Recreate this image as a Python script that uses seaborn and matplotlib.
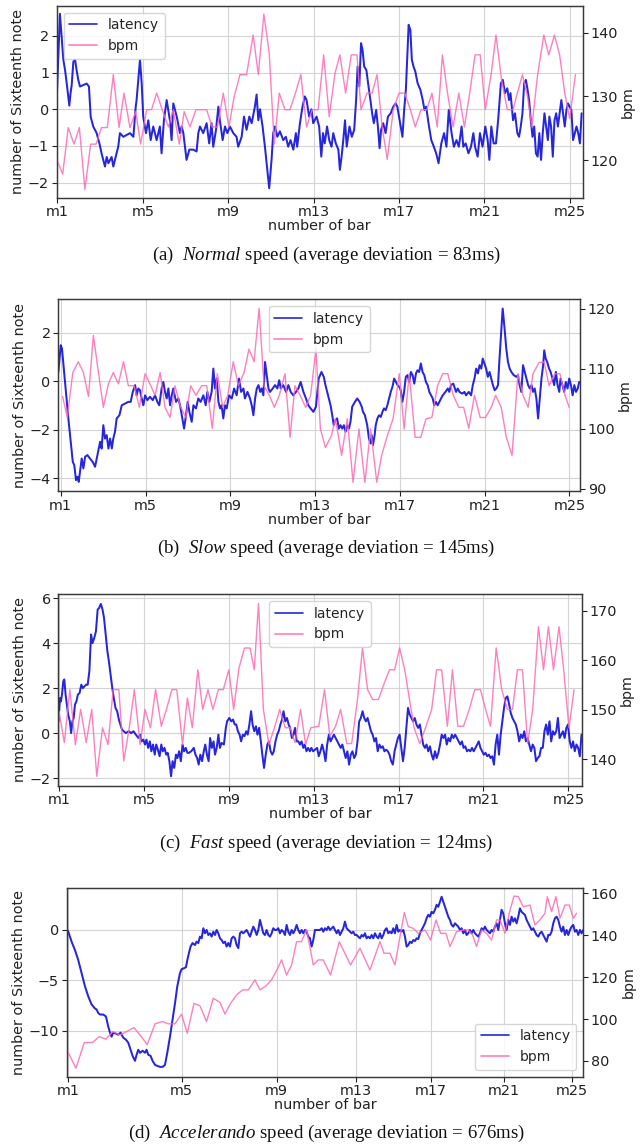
import numpy as np
import matplotlib
matplotlib.use("Agg")
import matplotlib.pyplot as plt
import seaborn as sns

# ---------------- data ----------------
bar_labels = ["m1", "m5", "m9", "m13", "m17", "m21", "m25"]
bar_ticks = [1, 5, 9, 13, 17, 21, 25]
# accelerando panel: x axis is time (s), bars start at these times
bar_times_d = [0, 11.34, 20.84, 28.74, 36.24, 43.57, 50.4]

captions = [
    ("(a)", "Normal", "speed (average deviation = 83ms)"),
    ("(b)", "Slow", "speed (average deviation = 145ms)"),
    ("(c)", "Fast", "speed (average deviation = 124ms)"),
    ("(d)", "Accelerando", "speed (average deviation = 676ms)"),
]

# (a) Normal
latency_a = [
    (0.97, 0.25), (1.12, 2.6), (1.28, 1.35), (1.36, 1.07), (1.44, 0.7), (1.56, 0.1), (1.62, 0.45), (1.67, 0.65),
    (1.75, 1.3), (1.83, 1.35), (1.90, 1.07), (1.98, 0.8), (2.06, 0.62), (2.22, 0.66), (2.37, 0.7), (2.48, 0.62),
    (2.56, -0.2), (2.68, -0.47), (2.84, -0.65), (2.97, -0.93), (3.07, -1.2), (3.23, -1.56), (3.31, -1.3),
    (3.39, -1.47), (3.54, -1.3), (3.62, -1.56), (3.75, -1.25), (3.85, -1.02), (3.93, -0.65), (4.09, -0.75),
    (4.24, -0.7), (4.40, -0.65), (4.56, -0.75), (4.67, 0.07), (4.71, 0.25), (4.79, 0.8), (4.87, 1.35), (4.95, 0.7),
    (5.02, -0.2), (5.15, -0.65), (5.26, -0.3), (5.37, -0.84), (5.49, -0.47), (5.65, -0.84), (5.80, -0.47),
    (5.88, -1.2), (5.99, -0.3), (6.12, 0.25), (6.27, -0.3), (6.35, -0.84), (6.43, 0.16), (6.59, -0.2), (6.74, -0.65),
    (6.82, -0.47), (6.90, -0.65), (7.05, -1.38), (7.18, -1.1), (7.37, -1.1), (7.52, -1.15), (7.60, -0.65),
    (7.68, -0.47), (7.83, -0.65), (7.99, -0.38), (8.11, -0.93), (8.22, -0.38), (8.30, -1.02), (8.43, -0.56),
    (8.54, 0.07), (8.61, -0.3), (8.74, -0.84), (8.85, -0.47), (8.96, -0.65), (9.08, -0.47), (9.24, -0.65),
    (9.39, -0.75), (9.47, -1.02), (9.63, -0.75), (9.74, -0.2), (9.86, -0.56), (9.99, -0.2), (10.10, -0.38),
    (10.25, 0.07), (10.33, 0.4), (10.41, -0.3), (10.49, 0.0), (10.61, -0.47), (10.72, -1.02), (10.83, -1.65),
    (10.92, -2.15), (11.03, -1.38), (11.11, -0.65), (11.19, -0.47), (11.30, -0.75), (11.42, -0.6), (11.58, -0.84),
    (11.70, -0.75), (11.81, -1.02), (11.92, -0.84), (12.05, -1.1), (12.17, -0.65), (12.23, -1.02), (12.36, -0.38),
    (12.48, 0.07), (12.59, 0.35), (12.67, 0.25), (12.79, -0.2), (12.90, 0.0), (12.98, -0.38), (13.14, -0.2),
    (13.26, -0.47), (13.36, -1.29), (13.44, -0.65), (13.52, -0.93), (13.63, -0.47), (13.73, -0.84), (13.84, -1.02),
    (13.92, -0.65), (14.04, -0.93), (14.16, -1.1), (14.23, -1.65), (14.31, -1.29), (14.39, -0.84), (14.47, -0.3),
    (14.55, -1.02), (14.68, -0.47), (14.79, -0.75), (14.90, -0.56), (14.99, 0.25), (15.06, 1.16), (15.14, 0.62),
    (15.22, 1.8), (15.29, 1.62), (15.37, 1.16), (15.47, 1.07), (15.55, 0.71), (15.66, 0.25), (15.74, -0.11),
    (15.82, -0.38), (15.93, -0.02), (16.01, -0.47), (16.09, -1.06), (16.16, -0.56), (16.26, -0.38), (16.37, -0.65),
    (16.48, -0.2), (16.61, -0.11), (16.73, 0.07), (16.84, 0.16), (16.92, 0.07), (17.00, -0.2), (17.08, -0.47),
    (17.16, -0.75), (17.24, -0.02), (17.32, 0.53), (17.40, 1.62), (17.45, 2.3), (17.53, 2.16), (17.60, 1.35),
    (17.68, 1.16), (17.76, 1.03), (17.87, 0.71), (18.00, 0.53), (18.11, 0.25), (18.19, -0.02), (18.27, 0.07),
    (18.38, -0.38), (18.51, -0.84), (18.63, -1.02), (18.74, -1.2), (18.85, -1.47), (18.98, -0.93), (19.11, -0.65),
    (19.22, -1.02), (19.33, -0.02), (19.46, -0.65), (19.57, -1.02), (19.69, -0.84), (19.80, -1.02), (19.93, -0.47),
    (20.01, -1.02), (20.12, -0.93), (20.25, -1.2), (20.37, -1.02), (20.48, -0.65), (20.56, -1.02), (20.68, -1.29),
    (20.79, -0.65), (20.91, -1.02), (21.04, -0.47), (21.15, -0.84), (21.23, -1.38), (21.32, -0.47), (21.43, -0.93),
    (21.54, -0.93), (21.64, -0.3), (21.70, 0.16), (21.77, 0.71), (21.86, 0.8), (21.96, 0.44), (22.07, 0.57),
    (22.15, 0.25), (22.22, 0.44), (22.34, -0.3), (22.43, -0.11), (22.54, -0.65), (22.62, -0.75), (22.70, -0.47),
    (22.78, -0.11), (22.86, 0.71), (22.94, 0.8), (23.02, 0.53), (23.09, 0.25), (23.17, -0.3), (23.25, -0.75),
    (23.33, -0.47), (23.41, -1.2), (23.49, -1.29), (23.57, -0.65), (23.65, -1.38), (23.73, -0.65), (23.81, -0.11),
    (23.89, -0.47), (23.97, -0.84), (24.04, -0.2), (24.12, -0.47), (24.20, -1.29), (24.28, -0.3), (24.36, -0.11),
    (24.44, -0.47), (24.52, -0.11), (24.60, 0.25), (24.68, -0.11), (24.76, -0.47), (24.84, -0.02), (24.91, 0.16),
    (24.99, 0.07), (25.07, -0.02), (25.15, -0.84), (25.23, -0.65), (25.31, -0.47), (25.39, -0.65), (25.47, -0.93),
    (25.55, -0.11),
]
bpm_a = [
    (0.97, 120.1), (1.25, 117.8), (1.51, 125.1), (1.78, 122.5), (2.03, 125.1), (2.29, 115.4), (2.56, 122.5),
    (2.81, 122.5), (3.07, 125.1), (3.34, 125.1), (3.62, 133.4), (3.89, 125.1), (4.12, 130.5), (4.40, 125.1),
    (4.67, 127.6), (4.90, 122.5), (5.18, 127.9), (5.41, 127.9), (5.65, 130.5), (5.91, 127.9), (6.20, 125.2),
    (6.43, 127.9), (6.71, 122.5), (6.94, 127.6), (7.21, 125.2), (7.49, 127.9), (7.75, 127.9), (7.99, 127.9),
    (8.25, 125.2), (8.50, 125.2), (8.77, 130.5), (9.03, 125.2), (9.28, 129.9), (9.55, 133.4), (9.86, 133.4),
    (10.17, 139.6), (10.41, 133.4), (10.67, 142.9), (10.92, 136.8), (11.16, 122.5), (11.39, 130.5), (11.66, 127.9),
    (11.89, 127.9), (12.15, 130.5), (12.40, 133.4), (12.67, 125.2), (12.93, 127.9), (13.21, 127.9), (13.47, 136.5),
    (13.73, 126.8), (14.00, 133.6), (14.23, 136.5), (14.50, 130.5), (14.76, 136.5), (15.03, 136.5), (15.22, 127.9),
    (15.50, 130.5), (15.74, 130.5), (15.97, 133.4), (16.21, 125.2), (16.45, 120.1), (16.73, 127.9), (17.00, 130.5),
    (17.27, 130.5), (17.53, 127.9), (17.76, 125.2), (18.03, 127.9), (18.30, 127.9), (18.54, 130.5), (18.79, 125.2),
    (19.03, 136.5), (19.27, 130.5), (19.53, 125.2), (19.80, 130.5), (20.06, 125.2), (20.31, 130.5), (20.56, 136.5),
    (20.80, 136.5), (21.04, 127.9), (21.31, 133.4), (21.54, 139.6), (21.80, 132.6), (22.07, 127.9), (22.34, 127.9),
    (22.54, 130.5), (22.78, 133.4), (23.02, 129.9), (23.22, 125.2), (23.49, 133.4), (23.78, 139.6), (24.01, 136.5),
    (24.28, 139.6), (24.52, 136.5), (24.76, 130.5), (24.99, 126.5), (25.26, 133.4),
]

# (b) Slow
latency_b = [
    (0.89, 0.38), (1.0, 1.48), (1.06, 1.34), (1.16, 0.38), (1.25, -0.44), (1.36, -1.53), (1.47, -2.49), (1.57, -3.32),
    (1.64, -3.45), (1.72, -4.07), (1.79, -3.93), (1.85, -4.14), (1.91, -3.73), (1.99, -3.18), (2.07, -3.59),
    (2.15, -3.11), (2.26, -3.04), (2.38, -3.18), (2.51, -3.32), (2.62, -3.52), (2.73, -3.04), (2.86, -2.49),
    (2.93, -2.77), (3.01, -1.81), (3.09, -2.36), (3.17, -2.22), (3.25, -2.77), (3.33, -2.36), (3.41, -2.77),
    (3.48, -2.36), (3.56, -2.08), (3.64, -1.53), (3.77, -1.4), (3.88, -0.99), (4.03, -0.92), (4.19, -0.85),
    (4.30, -0.85), (4.40, -0.44), (4.51, -0.16), (4.58, -0.58), (4.66, -0.3), (4.74, -0.37), (4.82, -0.71),
    (4.90, -0.99), (4.98, -0.58), (5.09, -0.78), (5.21, -0.64), (5.34, -0.78), (5.45, -0.58), (5.56, -0.85),
    (5.65, -0.99), (5.76, -0.3), (5.84, -0.03), (5.92, -0.44), (6.00, -0.71), (6.08, -0.3), (6.16, -0.99),
    (6.24, -0.58), (6.31, -0.3), (6.44, -0.85), (6.55, -0.71), (6.63, -0.99), (6.71, -1.4), (6.82, -1.95),
    (6.91, -1.4), (6.99, -0.85), (7.07, -1.26), (7.18, -1.67), (7.26, -0.99), (7.38, -1.12), (7.49, -0.71),
    (7.60, -0.85), (7.73, -0.58), (7.84, -0.99), (7.92, -0.44), (8.01, -0.85), (8.12, -0.44), (8.20, 0.52),
    (8.28, -0.3), (8.36, 0.11), (8.44, -0.85), (8.52, -1.12), (8.59, -0.99), (8.67, -1.53), (8.75, -0.99),
    (8.83, -1.12), (8.94, -0.58), (9.07, -0.71), (9.18, -0.3), (9.30, -0.58), (9.41, 0.11), (9.51, -0.44),
    (9.62, -0.3), (9.69, -0.71), (9.81, -0.44), (9.93, -0.71), (10.01, -0.99), (10.09, -1.4), (10.17, -0.71),
    (10.25, -0.3), (10.33, -0.16), (10.41, -0.44), (10.48, -0.3), (10.56, -0.58), (10.64, 0.79), (10.72, 0.25),
    (10.80, -0.3), (10.87, -0.44), (11.00, -0.3), (11.11, -0.16), (11.22, -0.3), (11.31, 0.04), (11.38, -0.3),
    (11.50, -0.16), (11.63, -0.44), (11.74, -0.16), (11.85, -0.44), (11.97, -0.58), (12.10, -0.44), (12.21, -0.3),
    (12.32, -0.03), (12.45, -0.44), (12.57, -0.71), (12.68, -0.99), (12.79, -1.12), (12.92, -1.26), (13.04, -1.05),
    (13.17, 0.11), (13.30, 0.38), (13.41, 0.18), (13.49, -0.16), (13.57, -0.44), (13.65, -0.71), (13.73, -0.99),
    (13.81, -1.4), (13.88, -1.81), (13.96, -1.6), (14.04, -1.53), (14.12, -1.95), (14.20, -1.81), (14.28, -1.95),
    (14.36, -1.81), (14.44, -2.08), (14.52, -1.81), (14.60, -1.95), (14.67, -1.67), (14.75, -1.05), (14.88, -0.85),
    (14.99, -0.71), (15.10, -0.85), (15.20, -1.05), (15.26, -1.26), (15.35, -1.4), (15.46, -1.81), (15.54, -2.36),
    (15.62, -2.56), (15.67, -2.22), (15.73, -2.63), (15.81, -2.22), (15.86, -1.81), (15.94, -1.53), (16.02, -1.4),
    (16.10, -1.47), (16.18, -1.26), (16.25, -1.12), (16.33, -1.19), (16.41, -0.99), (16.49, -0.71), (16.57, -0.44),
    (16.65, -0.23), (16.73, 0.11), (16.81, -0.03), (16.89, -0.16), (16.97, -0.23), (17.04, -0.37), (17.12, -0.85),
    (17.20, -0.44), (17.28, 0.18), (17.36, 0.25), (17.44, -0.03), (17.52, 0.38), (17.60, 0.25), (17.68, -0.1),
    (17.76, 0.32), (17.83, 0.45), (17.91, 0.38), (17.99, 0.73), (18.07, 0.38), (18.15, 0.25), (18.23, -0.03),
    (18.31, -0.16), (18.39, -0.44), (18.47, -0.58), (18.55, -0.71), (18.62, -0.99), (18.70, -0.85), (18.78, -0.99),
    (18.86, -0.85), (18.94, -0.71), (19.02, -0.58), (19.15, -0.44), (19.26, -0.3), (19.33, -0.44), (19.41, -0.16),
    (19.52, -0.1), (19.65, -0.44), (19.73, -0.3), (19.81, -0.44), (19.94, -0.51), (20.05, -0.44), (20.12, -0.58),
    (20.25, -0.44), (20.36, -0.58), (20.44, -0.16), (20.52, 0.11), (20.60, 0.52), (20.68, 0.32), (20.76, 0.66),
    (20.84, 0.52), (20.91, 0.93), (20.99, 0.73), (21.07, 0.52), (21.15, 0.18), (21.23, 0.38), (21.31, 0.11),
    (21.39, -0.16), (21.47, -0.37), (21.55, -0.3), (21.63, -0.16), (21.70, 0.93), (21.78, 2.03), (21.85, 2.99),
    (21.94, 2.16), (22.02, 1.34), (22.10, 0.79), (22.18, 0.52), (22.26, 0.38), (22.37, 0.25), (22.50, 0.18),
    (22.57, 0.25), (22.65, -0.16), (22.73, -0.44), (22.81, 0.66), (22.89, 0.38), (22.97, 0.11), (23.05, -0.16),
    (23.13, -0.3), (23.21, -0.16), (23.28, -0.44), (23.36, -0.3), (23.44, -0.71), (23.52, -1.53), (23.60, -0.71),
    (23.68, 0.11), (23.76, 0.66), (23.81, 1.27), (23.88, 0.93), (23.95, 0.79), (24.04, 0.52), (24.11, 0.38),
    (24.20, 0.11), (24.28, -0.16), (24.36, 0.38), (24.44, -0.16), (24.52, -0.44), (24.58, 0.11), (24.67, -0.16),
    (24.75, -0.44), (24.83, -0.03), (24.91, -0.3), (24.99, 0.11), (25.07, -0.16), (25.15, -0.58), (25.23, -0.16),
    (25.31, -0.44), (25.39, -0.3), (25.46, -0.03),
]
bpm_b = [
    (1.09, 105.4), (1.31, 101.9), (1.57, 109.4), (1.83, 111.2), (2.07, 109.4), (2.31, 105.4), (2.54, 115.6),
    (2.78, 109.4), (3.01, 103.6), (3.25, 107.5), (3.48, 109.4), (3.72, 107.5), (3.96, 111.2), (4.19, 107.2),
    (4.46, 107.2), (4.71, 103.6), (4.98, 109.2), (5.21, 107.5), (5.45, 105.6), (5.69, 109.4), (5.92, 103.6),
    (6.16, 101.9), (6.39, 107.2), (6.63, 103.9), (6.90, 101.9), (7.13, 107.2), (7.38, 105.6), (7.65, 107.2),
    (7.89, 107.2), (8.15, 100.1), (8.39, 109.2), (8.64, 103.6), (8.88, 105.6), (9.14, 111.2), (9.38, 107.2),
    (9.65, 109.4), (9.88, 113.3), (10.12, 111.2), (10.36, 120.1), (10.59, 107.2), (10.84, 105.6), (11.08, 103.6),
    (11.31, 105.6), (11.58, 109.2), (11.82, 98.6), (12.05, 107.2), (12.29, 105.6), (12.56, 103.6), (12.79, 105.6),
    (13.04, 113.3), (13.25, 100.0), (13.49, 96.9), (13.77, 98.9), (13.96, 101.7), (14.25, 95.6), (14.52, 101.7),
    (14.79, 91.1), (15.07, 100.0), (15.35, 91.1), (15.62, 100.0), (15.91, 91.1), (16.14, 95.6), (16.41, 98.9),
    (16.68, 101.7), (16.97, 109.2), (17.20, 100.0), (17.44, 109.2), (17.72, 98.6), (17.99, 98.6), (18.23, 101.7),
    (18.51, 101.9), (18.78, 107.2), (19.02, 109.2), (19.26, 109.2), (19.52, 105.6), (19.78, 103.6), (20.01, 103.6),
    (20.25, 100.1), (20.52, 105.6), (20.79, 101.9), (21.04, 101.9), (21.31, 103.6), (21.52, 105.6), (21.78, 103.6),
    (22.02, 98.6), (22.29, 95.6), (22.57, 109.2), (22.81, 105.6), (23.05, 103.6), (23.28, 109.2), (23.57, 111.1),
    (23.81, 111.1), (24.04, 107.2), (24.31, 109.2), (24.55, 109.2), (24.79, 105.6), (24.99, 103.6),
]

# (c) Fast
latency_c_start = [
    (0.97, 0.53), (1.05, 1.57), (1.09, 1.42), (1.14, 1.72), (1.20, 2.31), (1.25, 2.39), (1.31, 1.72), (1.35, 1.42),
    (1.43, 0.83), (1.51, 0.53), (1.57, 0.01), (1.63, 0.53), (1.69, 0.68), (1.75, 1.27), (1.82, 1.42), (1.89, 1.72),
    (1.97, 1.79), (2.05, 2.16), (2.12, 2.01), (2.20, 2.09), (2.28, 2.16), (2.35, 2.16), (2.43, 2.76), (2.51, 4.39),
    (2.58, 4.01), (2.66, 4.24), (2.74, 4.53), (2.82, 5.5), (2.89, 5.57), (2.97, 5.75), (3.05, 5.5), (3.12, 5.13),
    (3.20, 4.39), (3.28, 3.64), (3.35, 3.2), (3.43, 2.61), (3.51, 2.01), (3.58, 1.57), (3.66, 1.13), (3.74, 0.98),
    (3.82, 0.61), (3.89, 0.39), (3.97, 0.16), (4.05, 0.09), (4.15, 0.01), (4.28, 0.09), (4.40, 0.01), (4.51, 0.09),
    (4.62, -0.06), (4.74, -0.21), (4.82, -0.06), (4.89, -0.36), (4.97, -0.28), (5.05, -0.5), (5.12, -0.28),
    (5.20, -0.65), (5.28, -0.36), (5.35, -0.8), (5.43, -0.5), (5.51, -0.95), (5.58, -0.5), (5.66, -0.73),
    (5.74, -1.02), (5.82, -0.5), (5.89, -0.8), (5.97, -0.65), (6.05, -0.95), (6.12, -0.87), (6.20, -1.24),
    (6.28, -1.91), (6.35, -1.24), (6.43, -1.54), (6.51, -0.95), (6.58, -1.1), (6.66, -0.8), (6.74, -1.24),
    (6.82, -0.5), (6.89, -0.8), (6.97, -0.65), (7.05, -0.87), (7.12, -0.87), (7.23, -0.8), (7.35, -0.65),
    (7.43, -0.95), (7.51, -1.1), (7.58, -1.39), (7.66, -0.95), (7.74, -1.24), (7.82, -0.8), (7.89, -0.5),
    (7.97, -0.95), (8.05, -1.24), (8.12, -0.21), (8.20, -0.65), (8.28, -0.36), (8.35, -0.95), (8.43, -0.65),
    (8.51, -0.06), (8.58, -0.65), (8.66, -0.43), (8.77, -0.5), (8.86, 0.24), (8.92, 0.53), (9.02, 0.68),
    (9.12, 0.53), (9.20, 0.61), (9.28, 0.39), (9.35, 0.39), (9.43, 0.09), (9.51, -0.06), (9.58, -0.36),
    (9.66, -0.06), (9.74, -0.13), (9.82, 0.09), (9.89, -0.06), (9.97, 0.39), (10.05, 0.98), (10.12, 0.39),
    (10.20, 0.09), (10.28, 0.31), (10.35, -0.06), (10.43, 0.24), (10.51, -0.36), (10.58, -0.95), (10.66, -1.54),
    (10.74, -0.95), (10.82, -0.5), (10.89, -0.36), (10.97, -0.8), (11.05, -0.95), (11.12, -0.8), (11.20, -0.36),
    (11.28, -0.06), (11.35, 0.09), (11.43, 0.39), (11.51, 0.61), (11.58, 0.98), (11.66, 0.53), (11.74, 0.68),
    (11.82, 0.39), (11.89, 0.24), (11.97, -0.21), (12.05, -0.06), (12.12, 0.24), (12.20, -0.36), (12.28, -0.36),
    (12.35, -0.5), (12.43, -0.36), (12.51, -0.65), (12.58, -0.5), (12.66, -0.8), (12.74, -0.65), (12.82, -0.8),
    (12.89, -0.65), (12.97, -0.8),
]
# evenly sampled from bar 13.16 to bar 25.62
latency_c_rest_range = (13.16, 25.62)
latency_c_rest = [
    -0.65, -1.02, -0.8, -0.5, -0.8, -1.24, -0.5, -0.06, -0.36, -0.21,
    -0.06, -0.21, -0.36, -0.5, -0.65, -0.5, -0.8, -1.1, -0.8, -1.39,
    -0.95, -0.8, -1.1, -0.95, -0.36, 0.53, 0.68, 0.98, 0.68, 0.53,
    0.68, 0.39, 0.09, -0.06, -0.36, -0.21, -0.8, -0.5, -0.65, -0.58,
    -0.8, -0.73, -0.8, -0.95, -1.24, -1.39, -0.8, -0.5, -0.21, -0.06,
    -0.65, -1.24, -0.65, 0.24, 1.13, 0.83, 0.68, 0.53, 0.68, 0.39,
    0.24, 0.39, -0.06, -0.5, -0.65, -0.5, -0.8, -0.58, -0.95, -1.17,
    -0.8, -1.1, -0.87, -0.5, -0.06, -0.21, -0.06, -0.5, -0.21, -0.36,
    -0.06, -0.21, -0.06, -0.21, -0.36, -0.5, -0.36, -0.65, -0.58, -0.8,
    -0.73, -0.8, -0.65, -0.8, -0.65, -0.5, -0.36, -0.65, -0.8, -0.95,
    -0.87, -1.02, -0.95, -1.1, -1.02, -1.39, -0.5, -0.06, -0.95, -0.06,
    0.53, 1.13, 1.57, 1.64, 1.3, 0.9, 0.68, 0.53, 0.39, 0.09,
    -0.36, -0.06, -0.21, 0.09, -0.36, -0.21, -0.5, -0.8, -0.5, -0.65,
    -1.24, -1.1, -1.02, -0.65, -0.65, 0.09, 0.39, -0.06, 0.53, -0.36,
    0.09, -0.06, 0.09, 0.68, -0.21, -0.06, 0.09, -0.21, 0.24, 0.39,
    -0.36, -0.65, -0.36, -0.8, -0.5, -0.65, -1.02, -0.06,
]
bpm_c = [
    (1.0, 149.7), (1.25, 143.4), (1.51, 154.1), (1.77, 143.0), (2.02, 150.1), (2.28, 143.4), (2.54, 150.1),
    (2.78, 136.6), (3.05, 146.4), (3.31, 143.0), (3.55, 154.1), (3.82, 154.1), (4.05, 139.7), (4.31, 146.4),
    (4.55, 154.1), (4.82, 143.0), (5.05, 150.1), (5.31, 146.4), (5.55, 154.1), (5.82, 146.7), (6.08, 150.4),
    (6.32, 154.1), (6.55, 154.1), (6.82, 143.0), (7.05, 152.4), (7.28, 146.4), (7.54, 158.1), (7.77, 150.1),
    (8.02, 154.1), (8.25, 150.1), (8.51, 154.1), (8.74, 154.1), (9.0, 158.1), (9.23, 150.1), (9.48, 158.5),
    (9.74, 162.5), (10.0, 162.5), (10.2, 158.1), (10.4, 171.5), (10.63, 150.1), (10.89, 143.0), (11.15, 146.4),
    (11.4, 150.1), (11.66, 146.4), (11.89, 146.4), (12.12, 143.4), (12.38, 150.1), (12.62, 143.0), (12.86, 146.4),
    (13.24, 146.7), (13.51, 154.1), (13.76, 144.7), (14.03, 146.7), (14.27, 150.1), (14.56, 143.2), (14.79, 143.2),
    (15.06, 152.0), (15.30, 162.5), (15.54, 154.1), (15.78, 152.1), (16.05, 152.1), (16.30, 155.1), (16.57, 158.1),
    (16.81, 158.1), (17.05, 162.5), (17.29, 158.1), (17.44, 154.1), (17.73, 146.4), (18.0, 143.2), (18.27, 146.4),
    (18.56, 150.1), (18.79, 158.1), (19.03, 158.1), (19.30, 146.7), (19.54, 158.1), (19.79, 146.7), (20.06, 146.7),
    (20.33, 150.1), (20.59, 154.1), (20.86, 154.1), (21.10, 150.1), (21.33, 146.7), (21.60, 162.5), (21.86, 154.1),
    (22.13, 150.1), (22.37, 150.1), (22.60, 158.1), (22.84, 158.1), (23.08, 143.2), (23.32, 150.1), (23.59, 166.8),
    (23.83, 158.1), (24.06, 166.8), (24.30, 158.1), (24.56, 166.8), (24.78, 158.1), (25.03, 146.4), (25.27, 154.1),
]

# (d) Accelerando (x in seconds)
latency_d_start = [
    (-0.15, 0.05), (0.0, -0.17), (0.33, -1.16), (0.67, -2.0), (1.0, -3.0), (1.33, -4.3), (1.67, -5.6), (2.0, -6.6),
    (2.33, -7.4), (2.67, -7.8), (2.83, -7.9), (3.0, -8.25), (3.17, -8.4), (3.5, -8.4), (3.77, -8.6), (4.0, -9.6),
    (4.17, -10.2), (4.33, -10.6), (4.5, -10.2), (4.77, -10.3), (5.0, -10.4), (5.23, -10.2), (5.5, -10.7),
    (5.77, -10.9), (6.0, -11.2), (6.23, -11.9), (6.43, -12.5), (6.67, -13.0), (6.83, -12.4), (7.0, -11.9),
    (7.17, -12.2), (7.43, -12.0), (7.67, -12.2), (7.83, -11.9), (8.0, -12.4), (8.23, -12.5), (8.43, -13.0),
    (8.67, -13.4), (8.9, -13.5), (9.17, -13.6), (9.43, -13.6), (9.67, -13.4), (9.9, -12.2), (10.17, -10.6),
    (10.43, -8.9), (10.67, -7.3), (10.9, -5.6), (11.17, -4.3), (11.33, -3.9), (11.57, -3.8), (11.77, -3.7),
    (11.9, -3.0), (12.1, -2.15), (12.23, -1.65), (12.43, -1.3), (12.67, -1.5), (12.83, -1.16), (13.0, -1.3),
]
# evenly sampled from 13.17 s to 51.5 s
latency_d_rest_range = (13.17, 51.5)
latency_d_rest = [
    -0.66, -0.83, 0.17, -0.33, 0, -0.5, -0.33, -0.66, -0.17, -0.5, 0, -0.33, -0.83, -1.0, -1.3, -1.16, -1.65, -1.3,
    -1.65, -0.83, -0.66, -0.83, -1.5, -1.8, -0.33, -0.17, -0.33, -0.17, 0, -0.33, -0.66, -0.17, 0.33, 0, -0.5, 0,
    1.0, 0.33, -0.33, -0.5, 0, -0.5, -0.66, -0.33, 0.17, 0, 0, 0.17, -0.33, 0, -0.17, -0.5, 0.5, -0.17, -0.5, 0,
    -0.33, 0, 0.5, 0, -0.33, 0, -0.33, 0, -0.17, -0.66, -0.83, -1.65, -1.0, 0, 0, 0,
    0, 0.17, -0.17, 0.17, 0, 0.33, 0, 0.17, 0.33, 0, -0.33, 0, -0.5, -0.17, 0.17, 0.83, 0.17, 0, -0.17, -0.33,
    -0.17, -0.5, -0.5, -0.66, -0.83, -0.5, -0.66, -0.33, -0.83, -0.66, -0.83, -0.5, -0.83, -0.33, -0.66, -0.83,
    -0.33, -0.83, -0.5, 0, 0.17, -0.33, -0.17, -0.33, 0.17, -0.33, 0.5, -0.17, 0, -0.17, 0, -0.66, -1.65, -1.5,
    -1.16, -1.3, -1.0, -1.1, -0.83, -0.9, -0.33, 0, 0.33, 0.66, 1.16, 1.5, 1.32, 1.8, 1.65, 2.0, 2.5, 2.3, 2.8,
    3.3, 2.8, 2.3, 1.8, 1.32, 1.0, 0.5, 0.33, 0.66, 0.5, 0.33, 0, 0.17, -0.33, 0, -0.5, -0.33, 0, -0.33, 0,
    -0.33, -0.5, -0.66, -0.33, 0.17, 0, 0.33, 0, -0.17, -0.33, 0, -0.17, 0.33, 0.66, 0, 1.0, 2.0, 1.65, 0.66, 0,
    1.0, 0.5, 1.32, 0.83, 1.16, 0.66, 1.32, 2.15, 1.8, 1.65, 1.5, 1.0, 0.66, 0.33, 0, 0.17, -0.17, -0.5, -0.66,
    -0.33, -0.17, -0.5, -0.83, -1.16, -0.5, -0.5, -0.17, 0.66, 1.16, 1.32, 1.0, 0.33, -0.17, 0.33, -0.5, 0, -0.5,
    0, 0.33, 0.5, -0.17, 0, -0.5, 0, -0.33, 0,
]
bpm_d = [
    (0, 84.0), (0.77, 76.5), (1.6, 88.8), (2.43, 88.8), (3.1, 91.6), (3.77, 90.4), (4.43, 94.0), (5.17, 92.4),
    (5.83, 94.0), (6.57, 95.9), (7.23, 92.0), (7.9, 87.8), (8.67, 97.7), (9.43, 98.8), (10.0, 97.7), (10.67, 97.7),
    (11.33, 102.3), (11.9, 93.2), (12.57, 107.5), (13.17, 106.3), (13.83, 98.8), (14.5, 109.9), (15.17, 107.9),
    (15.67, 102.4), (16.23, 107.5), (16.83, 111.5), (17.43, 113.9), (18.0, 113.9), (18.67, 118.7), (19.17, 113.9),
    (19.77, 115.8), (20.33, 118.7), (20.9, 123.8), (21.33, 128.2), (21.83, 121.0), (22.33, 125.8), (22.83, 136.9),
    (23.33, 136.9), (23.83, 142.8), (24.5, 125.8), (25.0, 128.2), (25.5, 128.2), (26.23, 121.0), (27.1, 136.9),
    (28.23, 125.8), (29.17, 133.8), (30.17, 123.4), (31.17, 136.9), (31.57, 131.4), (32.17, 131.4), (32.67, 125.8),
    (33.6, 150.8), (34.0, 144.1), (34.5, 143.3), (35.0, 140.9), (35.67, 142.5), (36.23, 137.7), (36.77, 147.3),
    (37.23, 140.9), (37.77, 140.9), (38.17, 134.6), (38.83, 141.7), (39.5, 142.5), (40.0, 142.5), (40.43, 140.1),
    (40.83, 134.6), (41.33, 142.5), (41.83, 140.9), (42.33, 137.7), (42.83, 147.3), (43.17, 147.3), (43.67, 140.9),
    (44.1, 150.5), (44.57, 158.7), (45.0, 158.4), (45.5, 153.6), (46.17, 154.4), (46.67, 144.9), (47.17, 147.3),
    (47.67, 150.5), (47.9, 158.4), (48.33, 151.3), (48.77, 158.4), (49.17, 148.1), (49.67, 154.4), (50.1, 154.4),
    (50.5, 148.1), (50.83, 150.5),
]

# ---------------- style ----------------
sns.set_style("whitegrid", {
    "axes.edgecolor": "#3a3a3a",
    "grid.color": "#d4d4d4",
    "xtick.bottom": True,
    "ytick.left": True,
    "xtick.color": "#222222",
    "ytick.color": "#222222",
})
plt.rcParams["font.family"] = ["DejaVu Sans"]
FS = 10.4
plt.rcParams.update({
    "axes.linewidth": 0.9,
    "grid.linewidth": 0.8,
    "xtick.major.size": 3.5,
    "ytick.major.size": 3.5,
    "xtick.major.width": 0.8,
    "ytick.major.width": 0.8,
    "font.size": FS,
    "axes.labelsize": FS,
    "xtick.labelsize": FS,
    "ytick.labelsize": FS,
    "legend.fontsize": 10,
    "axes.labelcolor": "#222222",
    "mathtext.fontset": "custom",
    "mathtext.rm": "Liberation Serif",
    "mathtext.it": "Liberation Serif:italic",
})

LAT_COLOR = "#0000d8"
BPM_COLOR = "#ff69b4"

fig = plt.figure(figsize=(6.43, 11.45), dpi=100)

panels = [
    dict(rect=[0.0882, 0.8273, 0.8180, 0.1677], lat=latency_a, bpm=bpm_a,
         xlim=(0.97, 25.6), ylim=(-2.41, 2.82), y2lim=(114.1, 144.2),
         yt=[-2, -1, 0, 1, 2], y2t=[120, 130, 140], xt=bar_ticks, loc="upper left", cap_y=0.7773),
    dict(rect=[0.0907, 0.5709, 0.8114, 0.1677], lat=latency_b, bpm=bpm_b,
         xlim=(0.887, 25.5), ylim=(-4.53, 3.37), y2lim=(89.6, 121.6),
         yt=[-4, -2, 0, 2], y2t=[90, 100, 110, 120], xt=bar_ticks, loc="upper center", cap_y=0.5214),
    dict(rect=[0.0907, 0.3138, 0.8140, 0.1674],
         lat=latency_c_start + list(zip(np.linspace(*latency_c_rest_range, len(latency_c_rest)), latency_c_rest)),
         bpm=bpm_c, xlim=(0.967, 25.63), ylim=(-2.33, 6.19), y2lim=(134.7, 173.4),
         yt=[-2, 0, 2, 4, 6], y2t=[140, 150, 160, 170], xt=bar_ticks, loc="upper center", cap_y=0.2638),
    dict(rect=[0.1037, 0.0597, 0.8034, 0.1645],
         lat=latency_d_start + list(zip(np.linspace(*latency_d_rest_range, len(latency_d_rest)), latency_d_rest)),
         bpm=bpm_d, xlim=(-0.16, 51.5), ylim=(-14.57, 4.14), y2lim=(72.5, 162.4),
         yt=[-10, -5, 0], y2t=[80, 100, 120, 140, 160], xt=bar_times_d, loc="lower right", cap_y=0.0105),
]

for p, cap in zip(panels, captions):
    ax = fig.add_axes(p["rect"])
    lx, ly = zip(*p["lat"])
    bx, by = zip(*p["bpm"])
    sns.lineplot(x=list(lx), y=list(ly), ax=ax, color=LAT_COLOR, alpha=0.85, lw=1.45,
                 sort=False, estimator=None, legend=False)
    ax.set_xlim(*p["xlim"])
    ax.set_ylim(*p["ylim"])
    ax.set_yticks(p["yt"])
    ax.set_xticks(p["xt"])
    ax.set_xticklabels(bar_labels)
    ax.set_xlabel("number of bar", labelpad=0)
    ax.set_ylabel("number of Sixteenth note", labelpad=2)
    ax.tick_params(axis="both", length=3.5, pad=2)

    ax2 = ax.twinx()
    sns.lineplot(x=list(bx), y=list(by), ax=ax2, color=BPM_COLOR, alpha=0.85, lw=1.0,
                 sort=False, estimator=None, legend=False)
    ax2.grid(False)
    ax2.set_ylim(*p["y2lim"])
    ax2.set_yticks(p["y2t"])
    ax2.set_ylabel("bpm", labelpad=2)
    ax2.tick_params(axis="y", right=True, length=3.5, pad=2)
    for s in ax2.spines.values():
        s.set_edgecolor("#3a3a3a")
        s.set_linewidth(0.9)

    h1 = ax.get_lines()[0]
    h2 = ax2.get_lines()[0]
    leg = ax2.legend([h1, h2], ["latency", "bpm"], loc=p["loc"], framealpha=0.8, edgecolor="#cccccc")
    for lh in leg.get_lines():
        lh.set_linewidth(1.2)

    fig.text(0.507, p["cap_y"], f"{cap[0]}  $\\mathit{{{cap[1]}}}$ {cap[2]}",
             ha="center", va="center", fontsize=13.6, family=["Liberation Serif", "DejaVu Serif"],
             color="#111111")

fig.savefig("out.png", dpi=100)
